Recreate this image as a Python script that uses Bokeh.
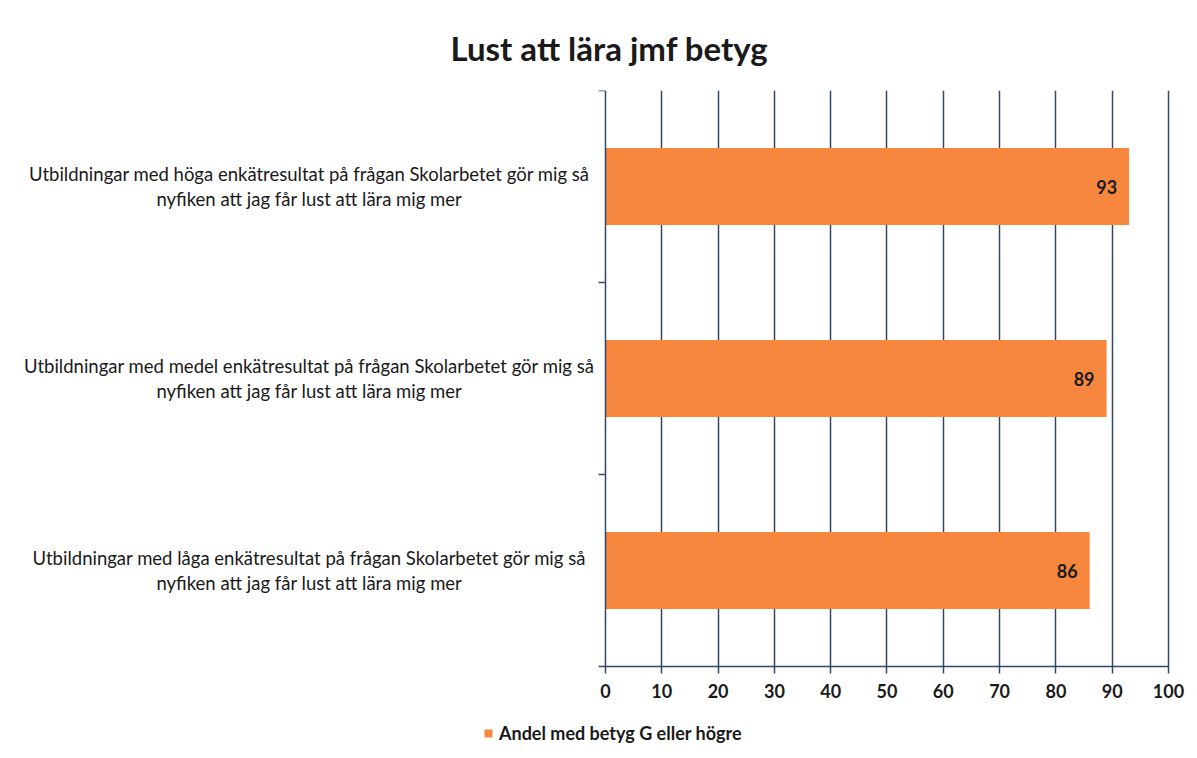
import math
from bokeh.plotting import figure
from bokeh.models import Range1d, FixedTicker, Legend, LegendItem, ColumnDataSource, BoxAnnotation
from bokeh.core.properties import value
from bokeh.embed import file_html
from bokeh.resources import INLINE

title_text = "Lust att lära jmf betyg"
categories = [
    "Utbildningar med höga enkätresultat på frågan Skolarbetet gör mig så\nnyfiken att jag får lust att lära mig mer",
    "Utbildningar med medel enkätresultat på frågan Skolarbetet gör mig så\nnyfiken att jag får lust att lära mig mer",
    "Utbildningar med låga enkätresultat på frågan Skolarbetet gör mig så\nnyfiken att jag får lust att lära mig mer",
]
values = [93, 89, 86]
series_name = "Andel med betyg G eller högre"
x_ticks = [0, 10, 20, 30, 40, 50, 60, 70, 80, 90, 100]

FONT = "Lato"
TXT = "#1a1a1a"
GRID = "#34466a"
BAR = "#F7863F"

XMIN, XMAX = 0, 100
LABEL_SPACE = 107.46  # room left of zero for the category labels
RIGHT_SPACE = 3.91    # room right of 100 for the last tick label
LABEL_X = -52.6       # centre of the category label block
BOTTOM_SPACE = 0.4375 # room below zero (tick labels, legend), in category units

n = len(categories)
ypos = [n - i - 0.5 for i in range(n)]
src = ColumnDataSource(dict(y=ypos, v=values, lab=[str(v) for v in values]))
cat_src = ColumnDataSource(dict(y=ypos, x=[LABEL_X] * n, t=categories))
bounds_src = ColumnDataSource(dict(x=[XMIN] * (n + 1), y=list(range(n + 1))))

p = figure(frame_width=1190, frame_height=660,
           x_range=Range1d(XMIN - LABEL_SPACE, XMAX + RIGHT_SPACE),
           y_range=Range1d(-BOTTOM_SPACE, n), y_axis_location=None,
           output_backend="svg", toolbar_location=None,
           min_border_left=0, min_border_right=0, min_border_top=90,
           min_border_bottom=0)
p.outline_line_color = None
p.background_fill_color = "white"
p.border_fill_color = "white"

p.title.text = title_text
p.title.align = "left"
p.title.offset = 450
p.title.standoff = 46
p.title.text_font = FONT
p.title.text_font_size = "33px"
p.title.text_font_style = "bold"
p.title.text_color = TXT

# hide grid lines below the value axis
p.add_layout(BoxAnnotation(top=0, fill_color="white", fill_alpha=1, line_color=None,
                           level="underlay"))

r = p.hbar(y="y", right="v", left=0, height=0.4, source=src, fill_color=BAR, line_color=None)
p.text(x="v", y="y", text="lab", source=src, x_offset=-12, text_align="right",
       text_baseline="middle", text_font=value(FONT), text_font_style="bold",
       text_font_size="18px", text_color=TXT)

# category labels (multi-line, centred)
p.text(x="x", y="y", text="t", source=cat_src, text_align="center", text_baseline="middle",
       text_font=value(FONT), text_font_size="18.5px", text_color=TXT, text_line_height=1.1)

# y axis line and category boundary ticks
p.segment(x0=XMIN, y0=0, x1=XMIN, y1=n, line_color=GRID, line_width=1.5)
p.ray(x="x", y="y", source=bounds_src, length=7, length_units="screen", angle=math.pi,
      line_color=GRID, line_width=1.5)

# x axis, fixed at zero
p.xaxis.fixed_location = 0
p.xaxis.bounds = (XMIN, XMAX)
p.xaxis.ticker = FixedTicker(ticks=x_ticks)
p.xaxis.axis_line_color = GRID
p.xaxis.axis_line_width = 1.5
p.xaxis.major_tick_line_color = GRID
p.xaxis.major_tick_line_width = 1.5
p.xaxis.major_tick_out = 7
p.xaxis.major_tick_in = 0
p.xaxis.minor_tick_line_color = None
p.xaxis.major_label_text_font = FONT
p.xaxis.major_label_text_font_size = "18px"
p.xaxis.major_label_text_font_style = "bold"
p.xaxis.major_label_text_color = TXT
p.xaxis.major_label_standoff = 10

p.xgrid.ticker = FixedTicker(ticks=x_ticks[1:])
p.xgrid.grid_line_color = GRID
p.xgrid.grid_line_width = 1.5
p.ygrid.grid_line_color = None

legend = Legend(items=[LegendItem(label=series_name, renderers=[r])],
                orientation="horizontal", location=(483, 6),
                label_text_font=FONT, label_text_font_size="18px", label_text_color=TXT,
                label_text_font_style="bold",
                glyph_width=10, glyph_height=10, label_standoff=6, border_line_color=None,
                background_fill_alpha=0, padding=0, margin=0)
p.add_layout(legend, "center")

open("out.html", "w").write(file_html(p, INLINE))
